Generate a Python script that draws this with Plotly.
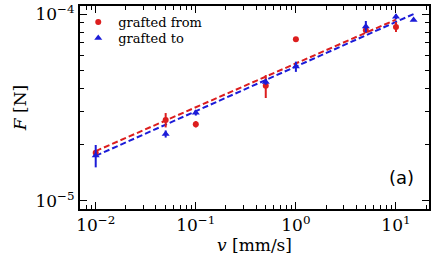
import plotly.graph_objects as go

# Data
v_from = [0.01, 0.05, 0.1, 0.5, 1.0, 5.0, 10.0]
F_from = [1.81e-5, 2.71e-5, 2.57e-5, 4.13e-5, 7.32e-5, 8.2e-5, 8.53e-5]
err_from = [0.06e-5, 0.24e-5, 0.1e-5, 0.58e-5, 0.0, 0.2e-5, 0.52e-5]

v_to = [0.01, 0.05, 0.1, 0.5, 1.0, 5.0, 10.0, 15.0]
F_to = [1.75e-5, 2.28e-5, 2.96e-5, 4.33e-5, 5.23e-5, 8.58e-5, 9.67e-5, 9.29e-5]
err_to = [0.24e-5, 0.1e-5, 0.1e-5, 0.15e-5, 0.33e-5, 0.6e-5, 0.3e-5, 0.0]

fit_from_v = [0.01, 10.0]
fit_from_F = [1.845e-5, 9.34e-5]
fit_to_v = [0.01, 15.0]
fit_to_F = [1.74e-5, 1.0e-4]

x_tickvals = [0.01, 0.1, 1, 10]
x_ticktext = ["10<sup>−2</sup>", "10<sup>−1</sup>", "10<sup>0</sup>", "10<sup>1</sup>"]
y_tickvals = [1e-5, 1e-4]
y_ticktext = ["10<sup>−5</sup>", "10<sup>−4</sup>"]

RED = "#dc1e1e"
BLUE = "#1c1cd8"
SERIF = "DejaVu Serif"

fig = go.Figure()
fig.add_trace(go.Scatter(x=fit_from_v, y=fit_from_F, mode="lines",
                         line=dict(color=RED, width=2, dash="6px,3px"), showlegend=False))
fig.add_trace(go.Scatter(x=fit_to_v, y=fit_to_F, mode="lines",
                         line=dict(color=BLUE, width=2, dash="6px,3px"), showlegend=False))
fig.add_trace(go.Scatter(x=v_from, y=F_from, mode="markers", name="grafted from",
                         marker=dict(color=RED, size=6, symbol="circle"), legend="legend",
                         error_y=dict(type="data", array=err_from, color=RED, thickness=2, width=0)))
fig.add_trace(go.Scatter(x=v_to, y=F_to, mode="markers", name="grafted to",
                         marker=dict(color=BLUE, size=7, symbol="triangle-up"), legend="legend2",
                         error_y=dict(type="data", array=err_to, color=BLUE, thickness=2, width=0)))

def minor_vals(lo, hi):
    vals = []
    for k in range(lo, hi):
        for m in range(2, 10):
            vals.append(m * 10.0 ** k)
    return vals

axis_common = dict(type="log", showgrid=False, zeroline=False, showline=True,
                   linecolor="black", linewidth=2, mirror="allticks", automargin=False,
                   ticks="inside", ticklen=7, tickwidth=1.3, tickcolor="black",
                   tickfont=dict(family=SERIF, size=17, color="black"))

fig.update_xaxes(**axis_common, range=[-2.157, 1.33], tickmode="array",
                 tickvals=x_tickvals, ticktext=x_ticktext,
                 minor=dict(tickmode="array", tickvals=minor_vals(-3, 2), ticks="inside",
                            ticklen=4, tickwidth=1.1, tickcolor="black", showgrid=False),
                 title=dict(text="<i>v</i> [mm/s]", font=dict(family=SERIF, size=17, color="black"),
                            standoff=4))
fig.update_yaxes(**axis_common, range=[-5.044, -3.957], tickmode="array",
                 tickvals=y_tickvals, ticktext=y_ticktext,
                 minor=dict(tickmode="array", tickvals=minor_vals(-6, -3), ticks="inside",
                            ticklen=4, tickwidth=1.1, tickcolor="black", showgrid=False),
                 title=dict(text="<i>F</i> [N]", font=dict(family=SERIF, size=17, color="black"),
                            standoff=4))

fig.add_annotation(text="(a)", xref="paper", yref="paper", x=0.963, y=0.094,
                   xanchor="right", yanchor="bottom", showarrow=False,
                   font=dict(family="DejaVu Sans", size=18, color="black"))

leg_common = dict(xanchor="left", yanchor="middle", bgcolor="rgba(0,0,0,0)",
                  font=dict(family=SERIF, size=13, color="black"), itemwidth=30)
fig.update_layout(width=436, height=265, margin=dict(l=80, r=7, t=6, b=56),
                  plot_bgcolor="white", paper_bgcolor="white",
                  legend=dict(x=-0.005, y=0.921, **leg_common),
                  legend2=dict(x=-0.005, y=0.842, **leg_common))

fig.write_html("out.html", config={"displayModeBar": False},
               post_script="document.body.style.margin='0';document.body.style.padding='0';")
